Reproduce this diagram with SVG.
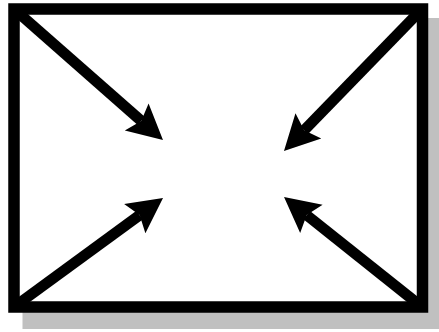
<svg xmlns="http://www.w3.org/2000/svg" width="439" height="332" viewBox="0 0 439 332">
  <style>
    .shadow { fill: #c0c0c0; stroke: none; }
    .frame { fill: #ffffff; stroke: #000000; stroke-width: 11.5; }
    .arrow { fill: none; stroke: #000000; stroke-width: 10.8; stroke-linecap: butt; marker-end: url(#head); }
  </style>
  <defs>
    <marker id="head" markerUnits="userSpaceOnUse" viewBox="-36 -18 38 36" markerWidth="38" markerHeight="36" refX="-29" refY="0" orient="auto" overflow="visible">
      <path d="M0,0 L-35,-18 L-29,0 L-35,18 Z" fill="#000000"/>
    </marker>
  </defs>
  <rect width="439" height="332" fill="#ffffff"/>
  <g id="frame">
    <rect class="shadow" x="22.5" y="18" width="420" height="311"/>
    <rect class="frame" x="14" y="9" width="408.5" height="298"/>
  </g>
  <g id="connectors">
    <line class="arrow" x1="14" y1="9" x2="141.2" y2="120.9"/>
    <line class="arrow" x1="422" y1="9" x2="304.2" y2="130.2"/>
    <line class="arrow" x1="14" y1="307" x2="139.6" y2="215.1"/>
    <line class="arrow" x1="422" y1="307" x2="306.7" y2="215.1"/>
  </g>
</svg>
